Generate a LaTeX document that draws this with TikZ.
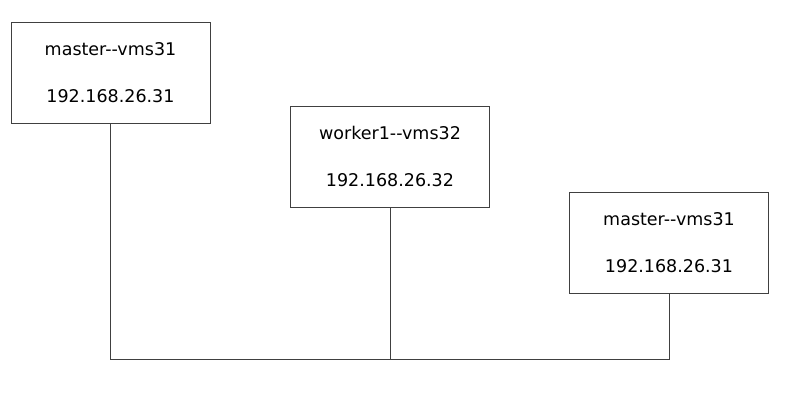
\documentclass[tikz,border=0pt]{standalone}
\usepackage{fontspec}
\setmainfont{DejaVu Sans}
\begin{document}
\begin{tikzpicture}[x=1pt,y=-1pt,
    hostbox/.style={draw=black!75,line width=0.9pt,minimum width=199pt,minimum height=101pt,
      align=center,inner sep=0pt,font=\fontsize{17.5}{21}\selectfont},
    wire/.style={draw=black!75,line width=0.9pt}]
    \useasboundingbox (0,0) rectangle (785,400);
    \node[hostbox] (m1) at (110.5,72.5) {master-{}-vms31\\[26pt]192.168.26.31};
    \node[hostbox] (w1) at (390,156.5) {worker1-{}-vms32\\[26pt]192.168.26.32};
    \node[hostbox] (m2) at (669,242.5) {master-{}-vms31\\[26pt]192.168.26.31};
    \coordinate (busL) at (110.5,359);
    \coordinate (busR) at (669,359);
    \draw[wire] (m1.south) -- (busL) -- (busR) -- (m2.south);
    \draw[wire] (w1.south) -- (w1.south |- busL);
  \end{tikzpicture}
\end{document}
